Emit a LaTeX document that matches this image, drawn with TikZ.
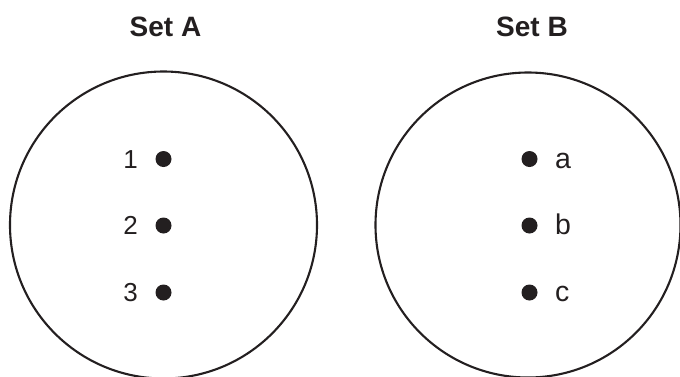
\documentclass[tikz,border=0pt]{standalone}
\usepackage{fontspec}
\setmainfont{Liberation Sans}
\definecolor{ink}{HTML}{231F20}
\begin{document}
\begin{tikzpicture}[x=1pt,y=-1pt,
  setcircle/.style={draw=ink,line width=2.1pt,circle,minimum size=#1,inner sep=0},
  elemdot/.style={fill=ink,circle,minimum size=16pt,inner sep=0},
  title/.style={text=ink,font=\fontsize{28}{30}\selectfont\bfseries,inner sep=0},
  numlabel/.style={text=ink,font=\fontsize{26}{28}\selectfont,inner sep=0,anchor=base east},
  letlabel/.style={text=ink,font=\fontsize{28.5}{30}\selectfont,inner sep=0,anchor=base west}]
\useasboundingbox (0,0) rectangle (680,376);
\clip (0,0) rectangle (680,376);
% Set A
\node[title] (tA) at (165.5,27) {Set A};
\node[setcircle=307pt] (cA) at (163.5,225) {};
\node[elemdot] (d1) at (163.5,159) {};
\node[elemdot] (d2) at (163.5,225.5) {};
\node[elemdot] (d3) at (163.5,292.5) {};
\node[numlabel] (l1) at (138,168.3) {1};
\node[numlabel] (l2) at (138,234.8) {2};
\node[numlabel] (l3) at (138,301.8) {3};
% Set B
\node[title] (tB) at (532,27) {Set B};
\node[setcircle=305pt] (cB) at (528,225) {};
\node[elemdot] (da) at (529.5,159) {};
\node[elemdot] (db) at (529.5,225.5) {};
\node[elemdot] (dc) at (529.5,292.5) {};
\node[letlabel] (la) at (555,168.3) {a};
\node[letlabel] (lb) at (555,234.8) {b};
\node[letlabel] (lc) at (555,301.8) {c};
\end{tikzpicture}
\end{document}
